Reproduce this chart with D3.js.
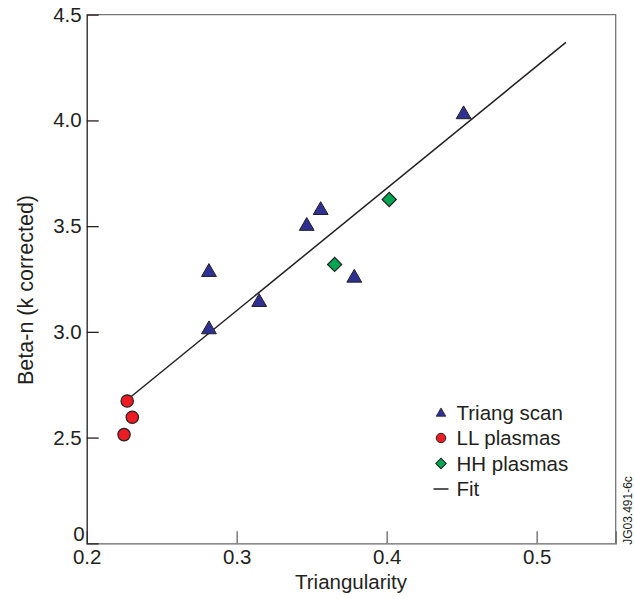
<!DOCTYPE html>
<html>
<head>
<meta charset="utf-8">
<script src="https://cdn.jsdelivr.net/npm/d3@7/dist/d3.min.js"></script>
<style>
  html, body { margin: 0; padding: 0; background: #fff; }
  svg { display: block; font-family: "Liberation Sans", Arial, Helvetica, sans-serif; }
</style>
</head>
<body>
<svg id="chart" width="634" height="599"></svg>
<script>
// Triangularity scan data (triangularity, normalised beta corrected for elongation)
const triangX = [0.2815, 0.2815, 0.315, 0.3467, 0.356, 0.3784, 0.4513];
const triangY = [3.287, 3.016, 3.145, 3.505, 3.58, 3.26, 4.033];

const llX = [0.227, 0.2304, 0.2249];
const llY = [2.673, 2.596, 2.514];

const hhX = [0.4017, 0.3653];
const hhY = [3.626, 3.319];

// Linear fit through the combined set
const fitX = [0.2293, 0.5195];
const fitY = [2.692, 4.369];

// Axis ticks; the bottom of the (broken) y axis is labelled "0"
const xTicks = [0.2, 0.3, 0.4, 0.5];
const yTicks = [2.0, 2.5, 3.0, 3.5, 4.0, 4.5];
const yTickLabels = ["0", "2.5", "3.0", "3.5", "4.0", "4.5"];

const legendItems = ["Triang scan", "LL plasmas", "HH plasmas", "Fit"];

const colors = { triang: "#2e3192", ll: "#ed1c24", hh: "#00a651", stroke: "#231f20", text: "#231f20" };

const svg = d3.select("#chart");
const plotL = 86.7, plotR = 615.7, plotT = 14.7, plotB = 543.3;

const x = d3.scaleLinear().domain([0.2, 0.5527]).range([plotL, plotR]);
const y = d3.scaleLinear().domain([2.0, 4.5]).range([plotB, plotT]);

// Frame: top and right edges in grey
svg.append("path")
  .attr("d", `M${plotL},${plotT}H${plotR}V${plotB}`)
  .attr("fill", "none").attr("stroke", "#777").attr("stroke-width", 1.3);

// Bottom axis with inward ticks
const xAxis = d3.axisBottom(x).tickValues(xTicks).tickSize(-12).tickPadding(6)
  .tickFormat(d3.format(".1f"));
const gx = svg.append("g").attr("transform", `translate(0,${plotB})`).call(xAxis);
gx.select(".domain").attr("stroke", "#666").attr("stroke-width", 1.3);
gx.selectAll(".tick line").attr("stroke", "#666").attr("stroke-width", 1.3)
  .attr("display", d => d === 0.2 ? "none" : null);
gx.selectAll(".tick text").attr("font-size", 20.5).attr("fill", colors.text)
  .attr("font-family", "Liberation Sans, Arial, sans-serif");

// Left axis with inward ticks
const yAxis = d3.axisLeft(y).tickValues(yTicks).tickSize(-12).tickPadding(5)
  .tickFormat((d, i) => yTickLabels[i]);
const gy = svg.append("g").attr("transform", `translate(${plotL},0)`).call(yAxis);
gy.select(".domain").attr("stroke", "#231f20").attr("stroke-width", 1.3);
gy.selectAll(".tick line").attr("stroke", "#231f20").attr("stroke-width", 1.3)
  .attr("display", d => (d === 2.0 || d === 4.5) ? "none" : null);
gy.selectAll(".tick text").attr("font-size", 20.5).attr("fill", colors.text)
  .attr("font-family", "Liberation Sans, Arial, sans-serif");
// The axis-break "0" sits a little higher, clear of the "0.2" below it
gy.selectAll(".tick text").filter(d => d === 2.0)
  .attr("x", -2).attr("transform", "translate(0,-9)");

// Axis titles
svg.append("text").attr("x", 351).attr("y", 589).attr("text-anchor", "middle")
  .attr("font-size", 20.5).attr("fill", colors.text).text("Triangularity");
svg.append("text").attr("transform", "translate(33,290) rotate(-90)").attr("text-anchor", "middle")
  .attr("font-size", 21.5).attr("fill", colors.text).text("Beta-n (k corrected)");

// Figure reference
svg.append("text").attr("transform", "translate(631.5,510.5) rotate(-90)").attr("text-anchor", "middle")
  .attr("font-size", 12).attr("fill", colors.text).text("JG03.491-6c");

// Fit line
svg.append("line")
  .attr("x1", x(fitX[0])).attr("y1", y(fitY[0]))
  .attr("x2", x(fitX[1])).attr("y2", y(fitY[1]))
  .attr("stroke", "#231f20").attr("stroke-width", 1.5);

const triSym = d3.symbol().type(d3.symbolTriangle).size(95);
const circSym = d3.symbol().type(d3.symbolCircle).size(120);
const diaSym = d3.symbol().type(d3.symbolSquare).size(100);

// Triangularity scan
svg.append("g").selectAll("path").data(d3.range(triangX.length)).join("path")
  .attr("d", triSym)
  .attr("transform", i => `translate(${x(triangX[i])},${y(triangY[i]) + 1})`)
  .attr("fill", colors.triang).attr("stroke", colors.stroke).attr("stroke-width", 1);

// LL plasmas
svg.append("g").selectAll("path").data(d3.range(llX.length)).join("path")
  .attr("d", circSym)
  .attr("transform", i => `translate(${x(llX[i])},${y(llY[i])})`)
  .attr("fill", colors.ll).attr("stroke", colors.stroke).attr("stroke-width", 1.2);

// HH plasmas
svg.append("g").selectAll("path").data(d3.range(hhX.length)).join("path")
  .attr("d", diaSym)
  .attr("transform", i => `translate(${x(hhX[i])},${y(hhY[i])}) rotate(45)`)
  .attr("fill", colors.hh).attr("stroke", colors.stroke).attr("stroke-width", 1.2);

// Legend
const lgX = 441, lgY0 = 412.5, lgStep = 25.5;
const lg = svg.append("g");
lg.append("path").attr("d", d3.symbol().type(d3.symbolTriangle).size(40))
  .attr("transform", `translate(${lgX},${lgY0 + 1})`)
  .attr("fill", colors.triang).attr("stroke", colors.stroke).attr("stroke-width", 0.8);
lg.append("path").attr("d", d3.symbol().type(d3.symbolCircle).size(70))
  .attr("transform", `translate(${lgX},${lgY0 + lgStep})`)
  .attr("fill", colors.ll).attr("stroke", colors.stroke).attr("stroke-width", 1);
lg.append("path").attr("d", d3.symbol().type(d3.symbolSquare).size(55))
  .attr("transform", `translate(${lgX},${lgY0 + 2 * lgStep}) rotate(45)`)
  .attr("fill", colors.hh).attr("stroke", colors.stroke).attr("stroke-width", 1);
lg.append("line").attr("x1", lgX - 7.5).attr("x2", lgX + 7.5)
  .attr("y1", lgY0 + 3 * lgStep).attr("y2", lgY0 + 3 * lgStep)
  .attr("stroke", "#231f20").attr("stroke-width", 1.5);
lg.selectAll("text.lg").data(legendItems).join("text").attr("class", "lg")
  .attr("x", 456.5).attr("y", (d, i) => lgY0 + i * lgStep + 7)
  .attr("font-size", 20.5).attr("fill", colors.text).text(d => d);
</script>
</body>
</html>
